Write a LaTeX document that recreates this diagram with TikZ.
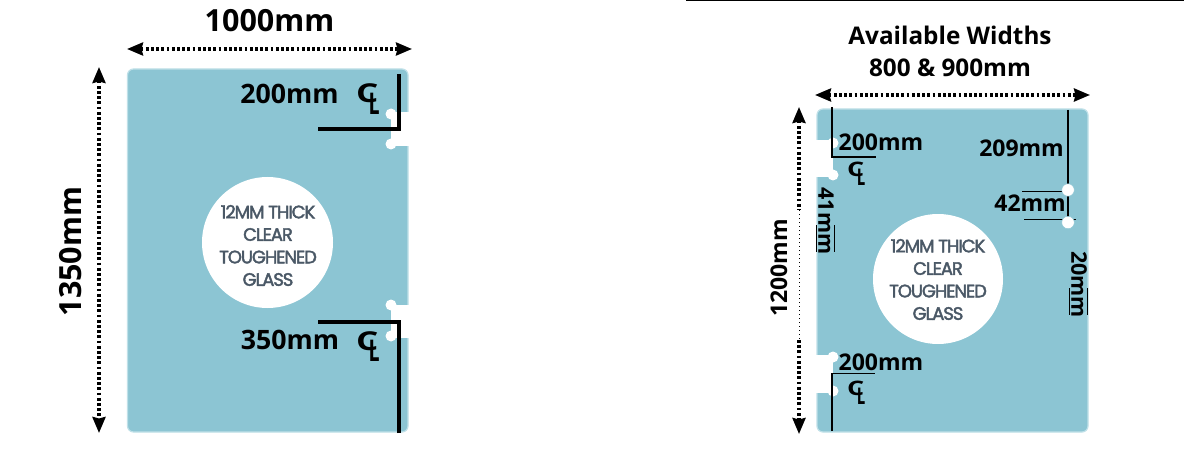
\documentclass[tikz,border=0pt]{standalone}
\usepackage{fontspec}
\setmainfont{Open Sans}
\newfontfamily\gothfont{Poppins}[FakeBold=2.2,LetterSpace=-6]
\usetikzlibrary{arrows.meta}
\definecolor{glass}{HTML}{8CC5D3}
\definecolor{glassedge}{HTML}{BFE0E8}
\definecolor{slate}{HTML}{4A5866}
\newcommand{\clsym}{\scalebox{1.35}[1]{C}\kern-.38em\raisebox{-.46em}{\scalebox{.75}[1.15]{L}}}
\tikzset{
  x=1pt,y=-1pt,
  panel/.style={fill=glass,draw=glassedge,line width=1.2pt,rounded corners=6pt},
  notch/.style={fill=white,draw=none},
  hole/.style={circle,fill=white,draw=none,minimum size=11pt,inner sep=0pt},
  bigdot/.style={circle,fill=white,draw=glass,line width=.4pt,minimum size=12.5pt,inner sep=0pt},
  disc/.style={circle,fill=white,draw=none,minimum size=131pt,inner sep=0pt},
  disctext/.style={align=center,text=slate,font=\gothfont\fontsize{18}{22.5}\selectfont,inner sep=0pt},
  dim/.style={font=\bfseries\fontsize{26.7}{30}\selectfont,inner sep=0pt,text=black},
  dimsmall/.style={font=\bfseries\fontsize{23}{26}\selectfont,inner sep=0pt,text=black},
  dimbig/.style={font=\bfseries\fontsize{30.5}{34}\selectfont,inner sep=0pt,text=black},
  clbig/.style={font=\bfseries\fontsize{26}{26}\selectfont,inner sep=0pt,text=black,anchor=base west},
  clsmall/.style={font=\bfseries\fontsize{20}{20}\selectfont,inner sep=0pt,text=black,anchor=base west},
  heavy/.style={line width=3.2pt,black},
  fine/.style={line width=1.8pt,black},
  hair/.style={line width=.8pt,black},
  dimarrow/.style={line width=3.2pt,black,dash pattern=on 2.8pt off 2.4pt,{Stealth[length=16pt,width=13pt,inset=1.5pt]}-{Stealth[length=16pt,width=13pt,inset=1.5pt]}},
  startarrow/.style={line width=3.2pt,black,dash pattern=on 2.8pt off 2.4pt,{Stealth[length=16pt,width=13pt,inset=1.5pt]}-},
  endarrow/.style={line width=3.2pt,black,dash pattern=on 2.8pt off 2.4pt,-{Stealth[length=16pt,width=13pt,inset=1.5pt]}},
  thindots/.style={line width=1pt,black,dash pattern=on 1pt off 3pt},
}
\begin{document}
\begin{tikzpicture}
\useasboundingbox (0,0) rectangle (1184,468);
\fill[white] (0,0) rectangle (1184,468);
% top rule
\coordinate (ruleA) at (686,.6);
\coordinate (ruleB) at (1184,.6);
\draw[line width=1.2pt,black] (ruleA) -- (ruleB);

% ---------- left panel ----------
\draw[panel] (127.5,69) rectangle (408,432);
\fill[notch] (391,112) rectangle (412,146);
\fill[notch] (391,305) rectangle (412,338);
\node[hole] (h1) at (391,114) {};
\node[hole] (h2) at (391,144) {};
\node[hole] (h3) at (391,305) {};
\node[hole] (h4) at (391,336) {};
\node[disc] (disc1) at (267.5,242.5) {};
\node[disctext] (t1) at (268,245.5) {12MM THICK\\CLEAR\\TOUGHENED\\GLASS};

\coordinate (a1) at (399,74);
\coordinate (a2) at (399,129);
\coordinate (a3) at (318,129);
\draw[heavy,line join=miter] (a1) -- (a2) -- (a3);
\coordinate (b1) at (399,433);
\coordinate (b2) at (399,322);
\coordinate (b3) at (318,322);
\draw[heavy,line join=miter] (b1) -- (b2) -- (b3);

\node[dim,anchor=base] (l200) at (289.5,104) {200mm};
\node[dim,anchor=base] (l350) at (290,349) {350mm};
\node[clbig] (c1) at (356,103) {\clsym};
\node[clbig] (c2) at (356,350) {\clsym};

\node[dimbig] (w1) at (269.5,21) {1000mm};
\node[dimbig,rotate=90] (h1t) at (71,251.5) {1350mm};

\coordinate (wa) at (127,49);
\coordinate (wb) at (412,49);
\draw[dimarrow] (wa) -- (wb);
\coordinate (va) at (99,67);
\coordinate (vb) at (99,433);
\draw[dimarrow] (va) -- (vb);

% ---------- right panel ----------
\draw[panel] (817,109) rectangle (1088,432);
\fill[notch] (813,140) rectangle (833,177);
\fill[notch] (813,355) rectangle (833,393);
\node[hole] (r1) at (833,143) {};
\node[hole] (r2) at (833,175) {};
\node[hole] (r3) at (833,357) {};
\node[hole] (r4) at (833,391) {};
\node[disc,minimum size=130pt] (disc2) at (938,279) {};
\node[disctext] (t2) at (938,279.5) {12MM THICK\\CLEAR\\TOUGHENED\\GLASS};

\coordinate (c1a) at (832,107);
\coordinate (c1b) at (832,157);
\coordinate (c1c) at (876,157);
\draw[fine,line join=miter] (c1a) -- (c1b) -- (c1c);
\coordinate (c2a) at (832,431);
\coordinate (c2b) at (832,373.5);
\coordinate (c2c) at (875,373.5);
\draw[fine,line width=1.4pt] (c2a) -- (c2b);
\coordinate (c2d) at (831,373.5);
\draw[fine] (c2d) -- (c2c);

\node[dimsmall,anchor=base] (r200a) at (881,150.5) {200mm};
\node[dimsmall,anchor=base] (r200b) at (881,370.5) {200mm};
\node[clsmall] (c3) at (847,176) {\clsym};
\node[clsmall] (c4) at (847,395) {\clsym};

% right-hand holes
\coordinate (d1) at (1068,110);
\coordinate (d2) at (1068,190);
\coordinate (d3) at (1068,222.5);
\coordinate (e1) at (1022,191.5);
\coordinate (e1b) at (1068,191.5);
\coordinate (e2) at (1024,219.5);
\coordinate (e3) at (1076,219.5);
\draw[fine] (d1) -- (d2) -- (d3);
\draw[line width=1.5pt,black] (e1) -- (e1b);
\draw[line width=1.5pt,black] (e2) -- (e3);
\node[bigdot] (dot1) at (d2) {};
\node[bigdot] (dot2) at (d3) {};
\node[dimsmall,anchor=base east] (r209) at (1064,157) {209mm};
\node[dimsmall,anchor=base east] (r42) at (1066,211.5) {42mm};
\node[dimsmall,font=\bfseries\fontsize{21.5}{26}\selectfont,rotate=-90] (r41) at (826,221) {41mm};
\node[dimsmall,font=\bfseries\fontsize{21.5}{26}\selectfont,rotate=-90] (r20) at (1079,284.5) {20mm};
\coordinate (f1) at (816,225);
\coordinate (f2) at (816,252);
\coordinate (f3) at (834,225);
\coordinate (f4) at (834,252);
\draw[hair] (f1) -- (f2);
\draw[hair] (f3) -- (f4);
\coordinate (g1) at (1069.5,288);
\coordinate (g2) at (1069.5,315);
\coordinate (g3) at (1087,288);
\coordinate (g4) at (1087,315);
\draw[hair] (g1) -- (g2);
\draw[hair] (g3) -- (g4);

\node[dimsmall,align=center,font=\bfseries\fontsize{24.3}{32}\selectfont] (avail) at (950,51) {Available Widths\\800 \& 900mm};
\node[dimsmall,rotate=90] (r1200) at (779,268) {1200mm};

\coordinate (ha) at (815,95);
\coordinate (hb) at (1090,95);
\draw[dimarrow] (ha) -- (hb);
\coordinate (ka) at (799,107);
\coordinate (kb) at (799,210);
\coordinate (kc) at (799,340);
\coordinate (kd) at (799,434);
\draw[startarrow] (ka) -- (kb);
\draw[thindots] (kb) -- (kc);
\draw[endarrow] (kc) -- (kd);
\end{tikzpicture}
\end{document}
